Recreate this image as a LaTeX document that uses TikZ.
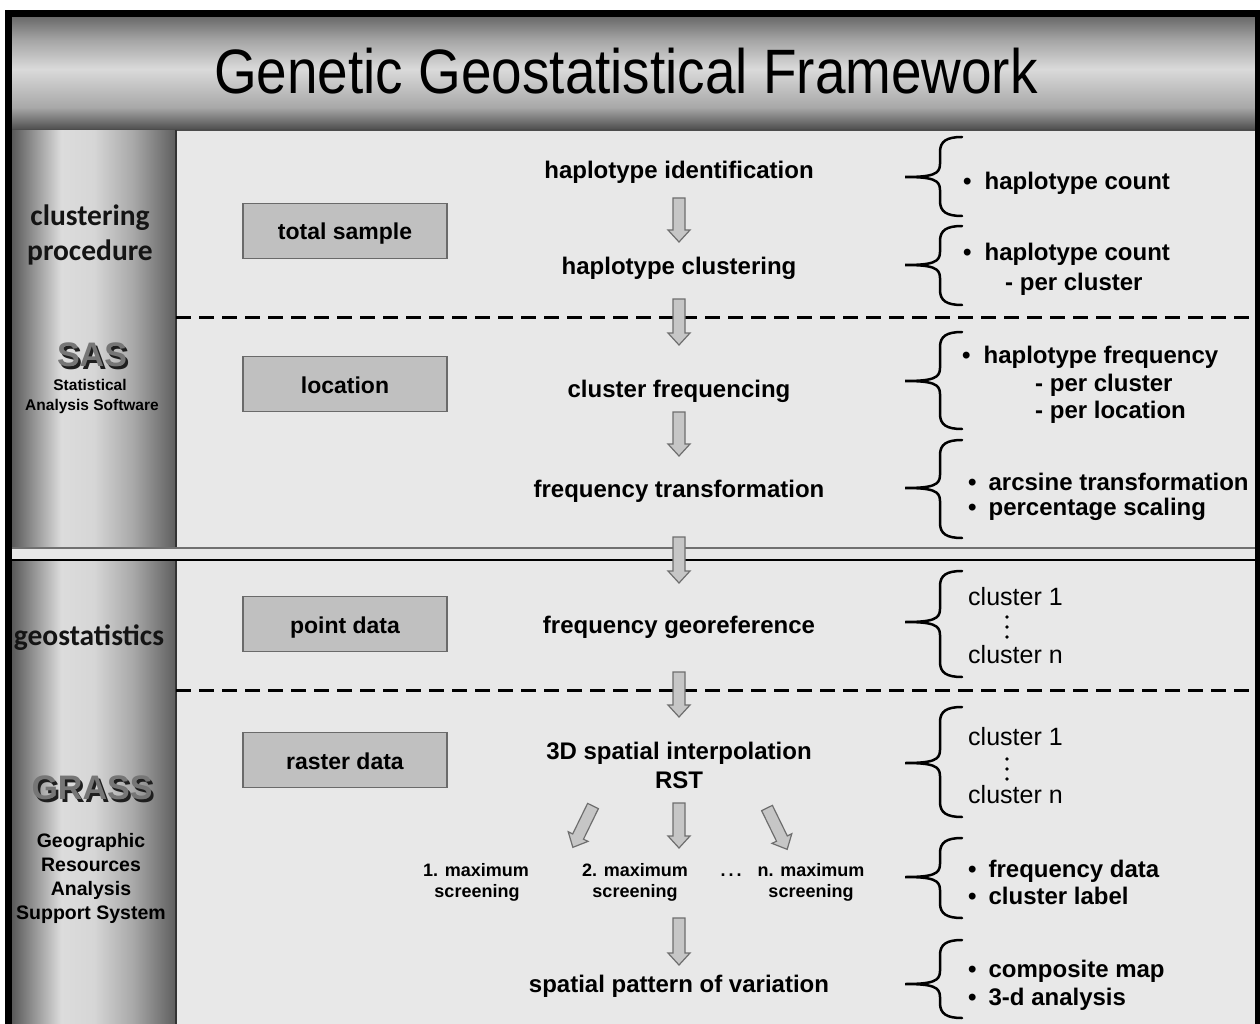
\documentclass[tikz,border=0pt]{standalone}
\usepackage{fontspec}
\setmainfont{Liberation Sans}
\newfontfamily\carlito{Carlito}
\usetikzlibrary{calc}
\definecolor{bgc}{HTML}{E8E8E8}
\definecolor{boxfill}{HTML}{C0C0C0}
\definecolor{boxline}{HTML}{6A6A6A}
\definecolor{arrfill}{HTML}{C6C6C6}
\definecolor{arrline}{HTML}{6E6E6E}
\definecolor{ta}{HTML}{4C4C4C}
\definecolor{tb}{HTML}{A8A8A8}
\definecolor{tc}{HTML}{DADADA}
\definecolor{td}{HTML}{A4A4A4}
\definecolor{te}{HTML}{6A6A6A}
\definecolor{ca}{HTML}{5A5A5A}
\definecolor{cb}{HTML}{DCDCDC}
\definecolor{cc}{HTML}{D6D6D6}
\definecolor{cd}{HTML}{A8A8A8}
\definecolor{ce}{HTML}{5E5E5E}
\definecolor{logofront}{HTML}{767676}
\definecolor{logoshadow}{HTML}{1E1E1E}
\definecolor{sepgray}{HTML}{707070}
\pgfdeclareverticalshading{titleshade}{100bp}{color(0bp)=(ta); color(25bp)=(ta); color(35bp)=(tb); color(52bp)=(tc); color(65bp)=(td); color(75bp)=(te); color(100bp)=(te)}
\pgfdeclarehorizontalshading{colshade}{100bp}{color(0bp)=(ca); color(25bp)=(ca); color(40bp)=(cb); color(50bp)=(cc); color(62bp)=(cd); color(75bp)=(ce); color(100bp)=(ce)}
\newcommand\mybrace[3]{%
  \draw[bracestyle] (962,#1) .. controls (947,#1) and (940,#1+4) .. (940,#1+15)
    -- (940,#2-13) .. controls (940,#2-3) and (933,#2) .. (905,#2)
    .. controls (933,#2) and (940,#2+3) .. (940,#2+13)
    -- (940,#3-15) .. controls (940,#3-4) and (947,#3) .. (962,#3);}
\newcommand\myvdots[1]{%
  \fill (1007,#1-10) circle (1.8pt) (1007,#1) circle (1.8pt) (1007,#1+10) circle (1.8pt);}
\begin{document}
\begin{tikzpicture}[x=1pt,y=-1pt,
  ctext/.style={font=\fontsize{24}{28}\selectfont\bfseries, inner sep=0pt, text height=18pt, text depth=2pt},
  rtext/.style={ctext, anchor=west},
  ctl/.style={font=\fontsize{25}{29}\selectfont, inner sep=0pt, text height=20pt, text depth=6pt, anchor=west},
  stext/.style={font=\fontsize{18}{21}\selectfont\bfseries, inner sep=0pt, text height=15pt, text depth=1pt},
  gbox/.style={draw=boxline, line width=1.2pt, fill=boxfill, minimum width=204pt, minimum height=55pt, inner sep=0pt, text height=20pt, text depth=2pt, font=\fontsize{23}{27}\selectfont\bfseries},
  lproc/.style={font=\carlito\fontsize{29.5}{34}\selectfont\bfseries, text=black!92, inner sep=0pt, text height=21pt, text depth=6pt},
  logo/.style={font=\fontsize{34}{40}\selectfont\bfseries, inner sep=0pt},
  lsmall/.style={font=\fontsize{15.5}{18}\selectfont\bfseries, inner sep=0pt, text height=11pt, text depth=3pt},
  lgeo/.style={font=\fontsize{19.5}{23}\selectfont\bfseries, inner sep=0pt, text height=14pt, text depth=4pt},
  dashline/.style={line width=3pt, dash pattern=on 15pt off 8pt},
  bracestyle/.style={line width=2.5pt, line cap=round},
  afill/.style={fill=arrfill, draw=arrline, line width=1.2pt, line join=miter},
  pics/barrow/.style={code={
    \filldraw[afill] (-6,0) -- (6,0) -- (6,#1-12) -- (11,#1-12) -- (0,#1) -- (-11,#1-12) -- (-6,#1-12) -- cycle;}}
]
\useasboundingbox (0,0) rectangle (1260,1024);
\fill[white] (0,0) rectangle (1260,1024);
% backgrounds
\fill[bgc] (12,17) rectangle (1255,1030);
\shade[shading=titleshade] (12,17) rectangle (1255,130);
\draw[line width=2pt, color=ta] (12,130) -- (1255,130);
\shade[shading=colshade] (12,131) rectangle (176,548);
\shade[shading=colshade] (12,560) rectangle (176,1030);
\draw[line width=2pt, color=black!80] (176,130) -- (176,548);
\draw[line width=2pt, color=black!80] (176,560) -- (176,1030);
% separator strip
\fill[bgc] (12,548) rectangle (1255,560);
\draw[line width=2pt, color=sepgray] (12,548) -- (1255,548);
\draw[line width=1.5pt, black] (12,560) -- (1255,560);
% dashed lines
\draw[dashline] (176,317) -- (1255,317);
\draw[dashline] (176,690) -- (1255,690);
% outer frame
\draw[line width=7pt] (8.5,13.5) rectangle (1258.5,1045);

% title
\node[font=\fontsize{56}{60}\selectfont, inner sep=0pt] (title) at (626,71) {\scalebox{0.98}[1.12]{Genetic Geostatistical Framework}};

% left column
\node[lproc] (lp1) at (90,218) {clustering};
\node[lproc] (lp2) at (90,253) {procedure};
\node[logo, text=logoshadow] (sassh) at (94.5,357.5) {SAS};
\node[logo, text=logofront] (sas) at (92,355) {SAS};
\node[lsmall] (sas1) at (90,386) {Statistical};
\node[lsmall] (sas2) at (92,406) {Analysis Software};
\node[lproc] (geo) at (89,638) {geostatistics};
\node[logo, text=logoshadow] (grassh) at (94.5,790.5) {GRASS};
\node[logo, text=logofront] (grass) at (92,788) {GRASS};
\node[lgeo] (g1) at (91,842) {Geographic};
\node[lgeo] (g2) at (91,866) {Resources};
\node[lgeo] (g3) at (91,890) {Analysis};
\node[lgeo] (g4) at (91,914) {Support System};

% gray boxes
\node[gbox] (ts) at (345,231) {total sample};
\node[gbox] (loc) at (345,384) {location};
\node[gbox] (pd) at (345,624) {point data};
\node[gbox] (rd) at (345,760) {raster data};

% center flow
\node[ctext] (hid) at (679,171) {haplotype identification};
\node[ctext] (hclu) at (679,266) {haplotype clustering};
\node[ctext] (cfreq) at (679,389) {cluster frequencing};
\node[ctext] (ftrans) at (679,489) {frequency transformation};
\node[ctext] (fgeo) at (679,625) {frequency georeference};
\node[ctext] (interp) at (679,751) {3D spatial interpolation};
\node[ctext] (rst) at (679,780) {RST};
\node[stext] (m1a) at (476,869) {1. maximum};
\node[stext] (m1b) at (477,890) {screening};
\node[stext] (m2a) at (635,869) {2. maximum};
\node[stext] (m2b) at (635,890) {screening};
\node[stext] (dots) at (731,869) {.\hspace{3pt}.\hspace{3pt}.};
\node[stext] (mna) at (811,869) {n. maximum};
\node[stext] (mnb) at (811,890) {screening};
\node[ctext] (spv) at (679,984) {spatial pattern of variation};

% block arrows
\pic at (679,198) {barrow=44};
\pic at (679,299) {barrow=46};
\pic at (679,412) {barrow=44};
\pic at (679,537) {barrow=46};
\pic at (679,672) {barrow=45};
\pic[rotate=-26] at (593,806) {barrow=46};
\pic at (679,803) {barrow=45};
\pic[rotate=26] at (767,808) {barrow=46};
\pic at (679,918) {barrow=47};

% braces
\mybrace{137}{177}{216}
\mybrace{226}{265}{305}
\mybrace{332}{381}{429}
\mybrace{440}{488}{538}
\mybrace{571}{622}{677}
\mybrace{707}{763}{817}
\mybrace{838}{877}{918}
\mybrace{940}{984}{1018}

% right texts
\node[rtext] (r1) at (963,182) {\textbullet\hspace{13pt}haplotype count};
\node[rtext] (r2) at (963,253) {\textbullet\hspace{13pt}haplotype count};
\node[rtext] (r2b) at (1005,282) {- per cluster};
\node[rtext] (r3) at (962,355) {\textbullet\hspace{13pt}haplotype frequency};
\node[rtext] (r3b) at (1035,383) {- per cluster};
\node[rtext] (r3c) at (1035,410) {- per location};
\node[rtext] (r4) at (968,482) {\textbullet\hspace{12pt}arcsine transformation};
\node[rtext] (r4b) at (968,507) {\textbullet\hspace{12pt}percentage scaling};
\node[ctl] (c1) at (968,598) {cluster 1};
\myvdots{627}
\node[ctl] (cn) at (968,656) {cluster n};
\node[ctl] (c1b) at (968,738) {cluster 1};
\myvdots{769}
\node[ctl] (cnb) at (968,796) {cluster n};
\node[rtext] (r7) at (968,869) {\textbullet\hspace{12pt}frequency data};
\node[rtext] (r7b) at (968,896) {\textbullet\hspace{12pt}cluster label};
\node[rtext] (r8) at (968,969) {\textbullet\hspace{12pt}composite map};
\node[rtext] (r8b) at (968,997) {\textbullet\hspace{12pt}3-d analysis};
\end{tikzpicture}
\end{document}
